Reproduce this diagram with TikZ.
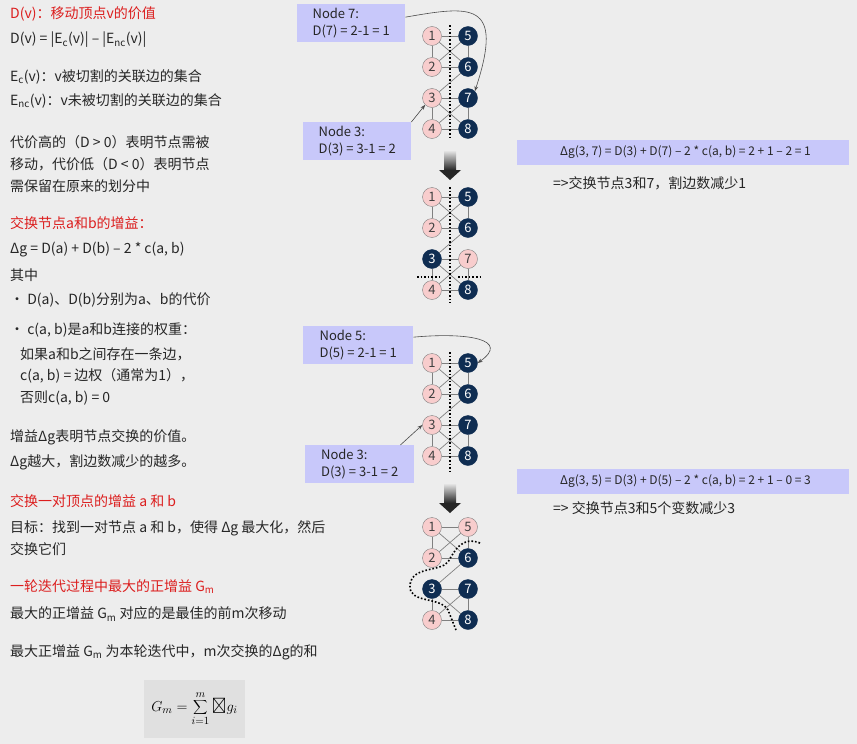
\documentclass[tikz,border=0pt]{standalone}
\usepackage{fontspec}
\setmainfont{Noto Sans CJK SC}
\usetikzlibrary{arrows.meta}
\definecolor{bgc}{RGB}{237,237,237}
\definecolor{boxc}{RGB}{200,200,250}
\definecolor{navy}{RGB}{15,45,82}
\definecolor{pinkc}{RGB}{248,205,205}
\definecolor{redt}{RGB}{220,30,30}
\tikzset{
  txt/.style={anchor=west, inner sep=0pt, text=black!85, font=\fontsize{14}{16}\selectfont},
  redtxt/.style={txt, text=redt},
  lbox/.style={fill=boxc, anchor=north west, align=left, inner sep=4pt, font=\fontsize{13}{17}\selectfont, text=black!85},
  pv/.style={circle, draw=black!50, fill=pinkc, minimum size=19pt, inner sep=0pt, font=\fontsize{13}{13}\selectfont, text=black!75},
  nv/.style={circle, draw=navy, fill=navy, minimum size=19pt, inner sep=0pt, font=\fontsize{13}{13}\selectfont, text=white},
  edge/.style={draw=black!50, line width=0.7pt},
  cut/.style={dotted, line width=1.6pt},
  callout/.style={draw=black!70, line width=0.6pt, -{Stealth[length=5pt]}}
}
\pgfdeclarelayer{background}
\pgfsetlayers{background,main}
% one 8-vertex graph: prefix, top y, styles of vertices 3, 5 and 7
\newcommand\kgraph[5]{
  \node[pv] (#1a) at (432,#2) {1};
  \node[pv] (#1b) at (432,#2+31) {2};
  \node[#3] (#1c) at (432,#2+62) {3};
  \node[pv] (#1d) at (432,#2+93) {4};
  \node[#4] (#1e) at (468,#2) {5};
  \node[nv] (#1f) at (468,#2+31) {6};
  \node[#5] (#1g) at (468,#2+62) {7};
  \node[nv] (#1h) at (468,#2+93) {8};
  \begin{pgfonlayer}{background}
  \foreach \u/\v in {a/b,a/e,a/f,b/e,b/f,e/f,c/d,c/f,c/g,c/h,d/g,d/h,g/h}
    \draw[edge] (#1\u) -- (#1\v);
  \end{pgfonlayer}
}
\newcommand\swaparrow[1]{
  \shade[top color=bgc, bottom color=black!85] (444,#1) rectangle (456,#1+20);
  \fill[black!85] (439,#1+20) -- (461,#1+20) -- (450,#1+30) -- cycle;
}
\begin{document}
\begin{tikzpicture}[x=1pt, y=-1pt]
\begin{pgfonlayer}{background}
\fill[bgc] (0,0) rectangle (857,744);
\end{pgfonlayer}
\useasboundingbox (0,0) rectangle (857,744);

% left column
\node[redtxt] at (10,14) {D(v)：移动顶点v的价值};
\node[txt] at (10,40) {D(v) = |E\textsubscript{c}(v)| – |E\textsubscript{nc}(v)|};
\node[txt] at (10,77) {E\textsubscript{c}(v)：v被切割的关联边的集合};
\node[txt] at (10,101) {E\textsubscript{nc}(v)：v未被切割的关联边的集合};
\node[txt] at (10,142) {代价高的（D > 0）表明节点需被};
\node[txt] at (10,164) {移动，代价低（D < 0）表明节点};
\node[txt] at (10,186) {需保留在原来的划分中};
\node[redtxt] at (10,223) {交换节点a和b的增益：};
\node[txt] at (10,250) {Δg = D(a) + D(b) – 2 * c(a, b)};
\node[txt] at (10,275) {其中};
\node[txt] at (10,300) {• D(a)、D(b)分别为a、b的代价};
\node[txt] at (10,330) {• c(a, b)是a和b连接的权重：};
\node[txt] at (20,354) {如果a和b之间存在一条边，};
\node[txt] at (20,376) {c(a, b) = 边权（通常为1），};
\node[txt] at (20,398) {否则c(a, b) = 0};
\node[txt] at (10,437) {增益Δg表明节点交换的价值。};
\node[txt] at (10,462) {Δg越大，割边数减少的越多。};
\node[redtxt] at (10,501) {交换一对顶点的增益 \textit{a} 和 \textit{b}};
\node[txt] at (10,528) {目标：找到一对节点 \textit{a} 和 \textit{b}，使得 \textit{Δg} 最大化，然后};
\node[txt] at (10,549) {交换它们};
\node[redtxt] at (10,587) {一轮迭代过程中最大的正增益 \textit{G\textsubscript{m}}};
\node[txt] at (10,614) {最大的正增益 \textit{G\textsubscript{m}} 对应的是最佳的前m次移动};
\node[txt] at (10,652) {最大正增益 \textit{G\textsubscript{m}} 为本轮迭代中，m次交换的\textit{Δg}的和};
\fill[black!12] (144,680) rectangle (245,738);
\node (gm) at (194.5,709) {\fontsize{15}{15}\selectfont$\displaystyle G_m=\sum_{i=1}^{m}\mathit{\Delta} g_i$};

% graphs
\kgraph{p}{36}{pv}{nv}{nv}
\kgraph{q}{197}{nv}{nv}{pv}
\kgraph{r}{363}{pv}{nv}{nv}
\kgraph{s}{527}{nv}{pv}{nv}

\draw[cut] (450,25) -- (450,140);
\draw[cut] (450,187) -- (450,303);
\draw[cut] (417,277) -- (440,277);
\draw[cut] (458,277) -- (483,277);
\draw[cut] (450,352) -- (450,472);
\draw[cut] (480,543) .. controls (462,536) and (455,550) .. (448,562)
  .. controls (440,572) and (412,566) .. (410,585)
  .. controls (408,604) and (440,596) .. (448,610) -- (456,630);

\swaparrow{150}
\swaparrow{483}

% labels and callouts
\node[lbox, minimum width=108pt] (n7) at (297,4) {Node 7:\\D(7) = 2-1 = 1};
\node[lbox, minimum width=108pt] (n3a) at (303,122) {Node 3:\\D(3) = 3-1 = 2};
\node[lbox, minimum width=110pt] (n5) at (303,326) {Node 5:\\D(5) = 2-1 = 1};
\node[lbox, minimum width=109pt] (n3b) at (305,445) {Node 3:\\D(3) = 3-1 = 2};
\draw[callout] ([yshift=6pt]n7.east) .. controls (470,6) and (505,0) .. (pg.north east);
\draw[callout] (n3a.north east) -- (pc.south west);
\draw[callout] ([yshift=8pt]n5.east) .. controls (470,332) and (510,340) .. (re.east);
\draw[callout] ([xshift=-14pt]n3b.north east) -- (rc.west);

% right results
\node[lbox, minimum width=332pt, minimum height=25pt, anchor=west, font=\fontsize{12}{14}\selectfont] (g37) at (517,152) {\ \,Δg(3, 7) = D(3) + D(7) – 2 * c(a, b) = 2 + 1 – 2 = 1};
\node[txt] (r37) at (553,183) {=>交换节点3和7，割边数减少1};
\node[lbox, minimum width=332pt, minimum height=25pt, anchor=west, font=\fontsize{12}{14}\selectfont] (g35) at (517,481) {\ \,Δg(3, 5) = D(3) + D(5) – 2 * c(a, b) = 2 + 1 – 0 = 3};
\node[txt] (r35) at (553,508) {=> 交换节点3和5个变数减少3};
\end{tikzpicture}
\end{document}
